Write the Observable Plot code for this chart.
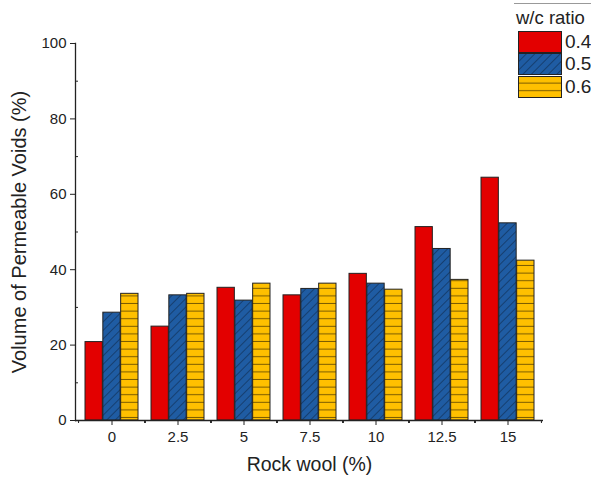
<!DOCTYPE html>
<html>
<head>
<meta charset="utf-8">
<script src="https://cdn.jsdelivr.net/npm/d3@7"></script>
<script src="https://cdn.jsdelivr.net/npm/@observablehq/plot@0.6"></script>
<style>
  html, body { margin: 0; padding: 0; background: #fff; }
  #wrap { position: relative; width: 591px; height: 482px; overflow: hidden; font-family: "Liberation Sans", Arial, sans-serif; }
  #legend { position: absolute; left: 514px; top: 3px; width: 80px; height: 100px; border-top: 1px solid #999; }
  #legend .title { position: absolute; left: 2px; top: 4px; font-size: 18.5px; line-height: 20px; color: #222; white-space: nowrap; }
  #legend .row { position: absolute; left: 4px; height: 22px; width: 80px; white-space: nowrap; }
  #legend .row svg { position: absolute; left: 0; top: 0; }
  #legend .row span { position: absolute; left: 47px; top: 0px; font-size: 19px; line-height: 22px; color: #222; }
</style>
</head>
<body>
<svg width="0" height="0" style="position:absolute">
  <defs>
    <pattern id="hatchBlue" width="6" height="6" patternUnits="userSpaceOnUse" patternTransform="rotate(45)">
      <rect width="6" height="6" fill="#1f5ca3"></rect>
      <line x1="0" y1="0" x2="0" y2="6" stroke="#163f70" stroke-width="2"></line>
    </pattern>
    <pattern id="hatchYellow" width="10" height="7.6" patternUnits="userSpaceOnUse">
      <rect width="10" height="7.6" fill="#ffc000"></rect>
      <line x1="0" y1="7.1" x2="10" y2="7.1" stroke="#7a5b00" stroke-width="1"></line>
    </pattern>
  </defs>
</svg>
<div id="wrap">
  <div id="chart"></div>
  <div id="legend"></div>
</div>
<script>
const groups = ["0", "2.5", "5", "7.5", "10", "12.5", "15"];
const ratios = ["0.4", "0.5", "0.6"];
const v04 = [20.8, 24.9, 35.2, 33.2, 38.9, 51.3, 64.4];
const v05 = [28.6, 33.2, 31.8, 34.9, 36.3, 45.5, 52.3];
const v06 = [33.6, 33.6, 36.3, 36.3, 34.7, 37.3, 42.4];
const yMajor = [0, 20, 40, 60, 80, 100];
const yMinor = [10, 30, 50, 70, 90];

const fills = {"0.4": "#e30000", "0.5": "url(#hatchBlue)", "0.6": "url(#hatchYellow)"};
const series = [v04, v05, v06];
const data = [];
ratios.forEach((r, j) => groups.forEach((g, i) => data.push({group: g, ratio: r, value: series[j][i]})));

const W = 591, H = 482, mL = 75, mR = 48, mT = 43, mB = 62;
const xs = Plot.scale({x: {type: "band", domain: groups, range: [mL, W - mR], paddingInner: 0.2, paddingOuter: 0.1}});
const step = xs.step ?? (W - mL - mR) / groups.length;
const bw = xs.bandwidth ?? step * 0.8;
const third = bw / 3;

const barMarks = ratios.map((r, j) => Plot.barY(data.filter(d => d.ratio === r), {
  x: "group", y: "value",
  fill: fills[r], stroke: "#222", strokeWidth: 1,
  insetLeft: j * third, insetRight: (2 - j) * third
}));

const chart = Plot.plot({
  width: W, height: H,
  marginLeft: mL, marginRight: mR, marginTop: mT, marginBottom: mB,
  style: {fontFamily: "'Liberation Sans', Arial, sans-serif", fontSize: "15px", color: "#222", background: "#fff"},
  x: {type: "band", domain: groups, paddingInner: 0.2, paddingOuter: 0.1},
  y: {domain: [0, 100]},
  marks: [
    ...barMarks,
    Plot.ruleY([0], {stroke: "#222", strokeWidth: 1.3}),
    Plot.frame({anchor: "left", stroke: "#222", strokeWidth: 1.3}),
    Plot.axisY({ticks: yMajor, tickSize: 5, tickPadding: 4, fontSize: 15, label: "Volume of Permeable Voids (%)", labelAnchor: "center", labelOffset: 64, labelArrow: "none"}),
    Plot.axisY({ticks: yMinor, tickSize: 3, dx: 3, text: null, label: null}),
    Plot.axisX({tickSize: 5, tickPadding: 6, fontSize: 15, label: "Rock wool (%)", labelAnchor: "center", labelOffset: 50, labelArrow: "none"}),
    Plot.axisX({tickSize: 3, dx: -step / 2, text: null, label: null}),
    Plot.axisX({tickSize: 3, dx: step / 2, text: null, label: null})
  ]
});
chart.querySelectorAll("g[aria-label='y-axis label'] text").forEach(t => t.setAttribute("font-size", "20px"));
chart.querySelectorAll("g[aria-label='x-axis label'] text").forEach(t => t.setAttribute("font-size", "19.5px"));
document.getElementById("chart").appendChild(chart);

const legend = document.getElementById("legend");
const title = document.createElement("div");
title.className = "title";
title.textContent = "w/c ratio";
legend.appendChild(title);
const tops = [27, 49, 72];
ratios.forEach((r, j) => {
  const row = document.createElement("div");
  row.className = "row";
  row.style.top = tops[j] + "px";
  row.innerHTML = `<svg width="44" height="23"><rect x="0.5" y="0.5" width="43" height="21" fill="${fills[r]}" stroke="#222" stroke-width="1"></rect></svg><span>${r}</span>`;
  legend.appendChild(row);
});
</script>
</body>
</html>
